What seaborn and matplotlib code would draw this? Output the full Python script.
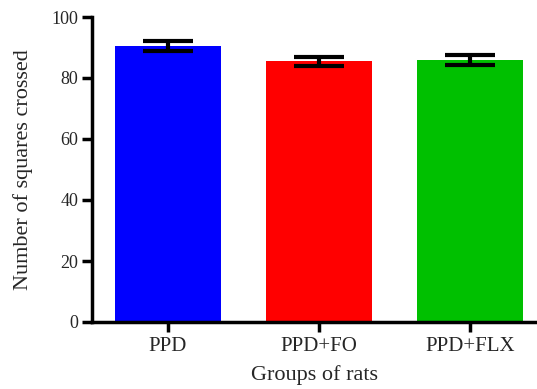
import matplotlib
matplotlib.use("Agg")
import matplotlib.pyplot as plt
import seaborn as sns
import pandas as pd

groups = ["PPD", "PPD+FO", "PPD+FLX"]
means = [90.5, 85.5, 85.8]
sems = [1.6, 1.5, 1.6]
colors = ["#0000FF", "#FF0000", "#00C000"]

sns.set_style("ticks")
plt.rcParams["font.family"] = ["Liberation Serif", "DejaVu Serif"]

df = pd.DataFrame({"group": groups, "value": means})

fig = plt.figure(figsize=(5.37, 3.89), dpi=100)
ax = fig.add_axes([92 / 537, (389 - 322) / 389, (537 - 92) / 537, (322 - 17) / 389])

sns.barplot(data=df, x="group", y="value", hue="group", palette=colors,
            width=0.7, errorbar=None, legend=False, ax=ax, saturation=1,
            linewidth=0)
ax.errorbar(range(len(groups)), means, yerr=sems, fmt="none", ecolor="black",
            elinewidth=3, capsize=18, capthick=3, zorder=5)

ax.set_xlim(-0.5, 2.44)
ax.set_ylim(0, 100)
ax.set_yticks([0, 20, 40, 60, 80, 100])
ax.set_xlabel("Groups of rats", fontsize=16, labelpad=6)
ax.set_ylabel("Number of squares crossed", fontsize=16, labelpad=13)
ax.tick_params(axis="x", labelsize=15, width=2.5, length=7, color="black", pad=4)
ax.tick_params(axis="y", labelsize=13, width=2.5, length=7, color="black", pad=3)
for s in ["left", "bottom"]:
    ax.spines[s].set_linewidth(2.5)
    ax.spines[s].set_color("black")
sns.despine(ax=ax)

fig.savefig("out.png", dpi=100)
